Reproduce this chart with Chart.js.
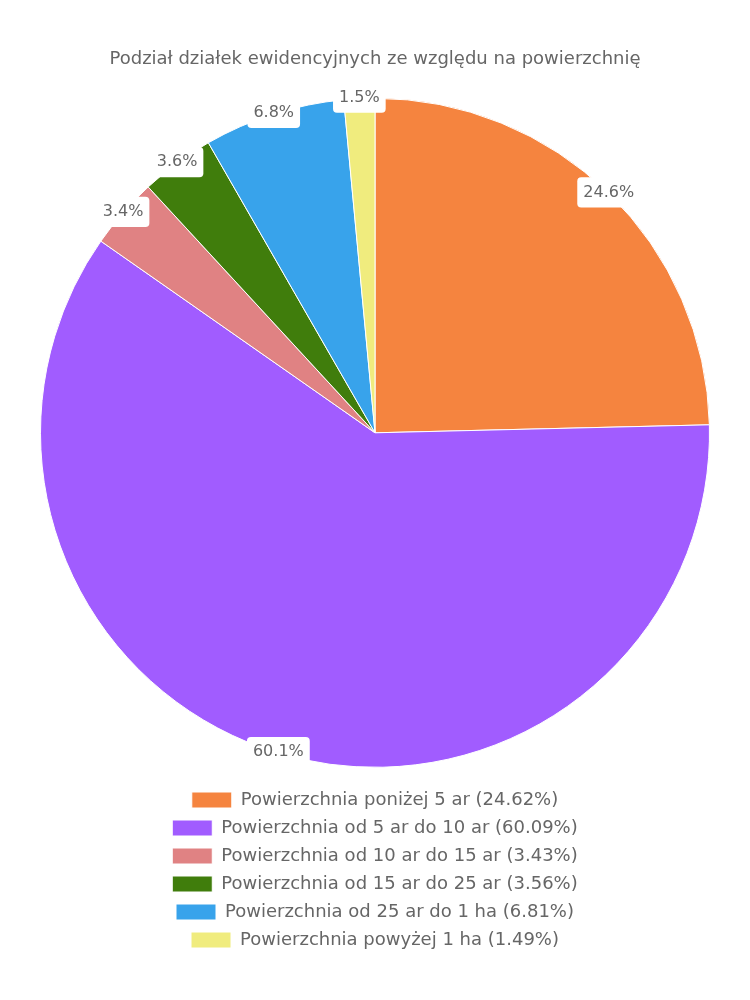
<!DOCTYPE html>
<html>
<head>
<meta charset="utf-8">
<script src="https://cdn.jsdelivr.net/npm/chart.js@4/dist/chart.umd.min.js"></script>
<style>
  html, body { margin: 0; padding: 0; background: #ffffff; }
  #wrap { width: 750px; height: 1000px; }
</style>
</head>
<body>
<div id="wrap"><canvas id="c" width="750" height="1000"></canvas></div>
<script>
const categories = [
  "Powierzchnia poniżej 5 ar",
  "Powierzchnia od 5 ar do 10 ar",
  "Powierzchnia od 10 ar do 15 ar",
  "Powierzchnia od 15 ar do 25 ar",
  "Powierzchnia od 25 ar do 1 ha",
  "Powierzchnia powyżej 1 ha"
];
const values = [24.62, 60.09, 3.43, 3.56, 6.81, 1.49];
const colors = ["#F5843F", "#A15CFF", "#E08283", "#407D0C", "#38A3EB", "#F0EC7E"];
const titleText = "Podział działek ewidencyjnych ze względu na powierzchnię";

const FONT = "'DejaVu Sans', sans-serif";
const TEXT = "#666666";

const edgeLabels = {
  id: "edgeLabels",
  afterDatasetsDraw(chart) {
    const ctx = chart.ctx;
    const meta = chart.getDatasetMeta(0);
    const data = chart.data.datasets[0].data;
    const total = data.reduce((a, b) => a + b, 0);
    const fs = 16;
    ctx.save();
    ctx.font = fs + "px " + FONT;
    ctx.textAlign = "center";
    ctx.textBaseline = "middle";
    meta.data.forEach((arc, i) => {
      const p = arc.getProps(["x", "y", "startAngle", "endAngle", "outerRadius"], true);
      const mid = (p.startAngle + p.endAngle) / 2;
      const cx = p.x + Math.cos(mid) * p.outerRadius;
      const cy = p.y + Math.sin(mid) * p.outerRadius - 1;
      const txt = (data[i] / total * 100).toFixed(1) + "%";
      const w = ctx.measureText(txt).width + 12;
      const h = fs * 1.2 + 11;
      ctx.fillStyle = "#ffffff";
      ctx.beginPath();
      if (ctx.roundRect) ctx.roundRect(cx - w / 2, cy - h / 2, w, h, 4);
      else ctx.rect(cx - w / 2, cy - h / 2, w, h);
      ctx.fill();
      ctx.fillStyle = TEXT;
      ctx.fillText(txt, cx, cy);
    });
    ctx.restore();
  }
};

new Chart(document.getElementById("c"), {
  type: "pie",
  data: {
    labels: categories,
    datasets: [{
      data: values,
      backgroundColor: colors,
      borderColor: "#ffffff",
      borderWidth: 1
    }]
  },
  options: {
    responsive: false,
    animation: false,
    layout: { padding: { top: 40, bottom: 41, left: 40, right: 40 } },
    plugins: {
      title: {
        display: true,
        text: titleText,
        color: TEXT,
        font: { family: FONT, size: 18, weight: "normal" },
        padding: { top: 9, bottom: 14 }
      },
      legend: {
        position: "bottom",
        labels: {
          color: TEXT,
          font: { family: FONT, size: 18 },
          boxWidth: 40,
          boxHeight: 16,
          padding: 10,
          generateLabels(chart) {
            const ds = chart.data.datasets[0];
            return chart.data.labels.map((l, i) => ({
              text: l + " (" + ds.data[i].toFixed(2) + "%)",
              fillStyle: ds.backgroundColor[i],
              strokeStyle: "#ffffff",
              lineWidth: 1,
              fontColor: TEXT,
              hidden: false,
              index: i
            }));
          }
        }
      },
      tooltip: { enabled: false }
    }
  },
  plugins: [edgeLabels]
});
</script>
</body>
</html>
